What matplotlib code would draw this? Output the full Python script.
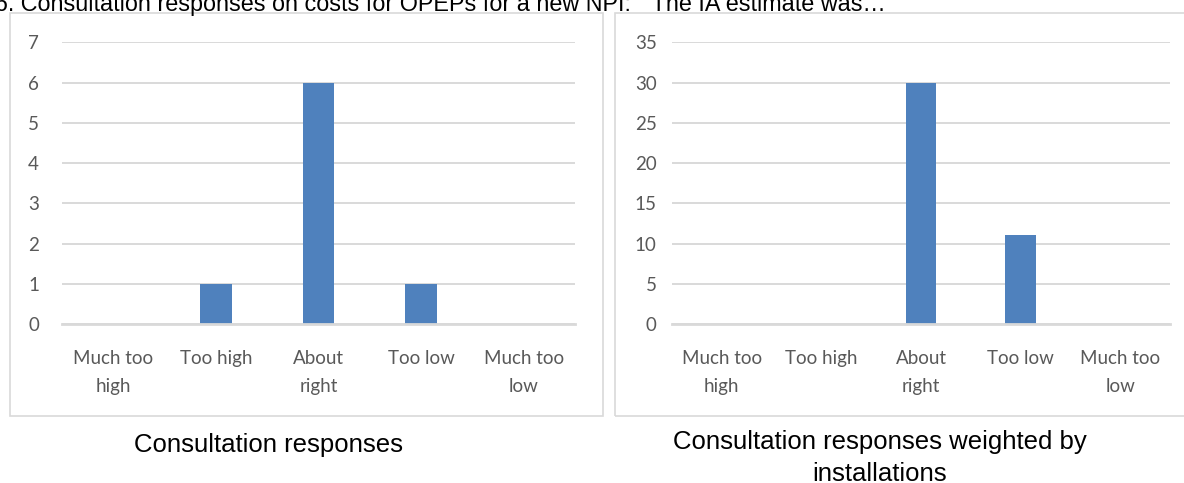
import matplotlib
matplotlib.use("Agg")
import matplotlib.pyplot as plt
from matplotlib.patches import Rectangle

# Survey data
categories = ["Much too\nhigh", "Too high", "About\nright", "Too low", "Much too\nlow"]
responses = [0, 1, 6, 1, 0]
weighted_responses = [0, 0, 30, 11, 0]

left_ticks = list(range(0, 8))
right_ticks = list(range(0, 36, 5))

title = "6. Consultation responses on costs for OPEPs for a new NPI:  \u201cThe IA estimate was\u2026"
left_caption = "Consultation responses"
right_caption = "Consultation responses weighted by\ninstallations"

W, H = 1184, 483
BAR = "#4F81BD"
GRID = "#D9D9D9"
TICK = "#595959"
CAPTION_FONT = "Liberation Sans"

fig = plt.figure(figsize=(W / 100, H / 100), dpi=100)
fig.patch.set_facecolor("white")


def fx(px):
    return px / W


def fy(py):
    return 1 - py / H


# Chart frames
for x0, x1 in [(10, 603), (615, 1200)]:
    fig.patches.append(Rectangle((fx(x0), fy(416)), fx(x1 - x0), (416 - 13) / H,
                                 transform=fig.transFigure, fill=False,
                                 edgecolor=GRID, linewidth=1.2))


def panel(x0, x1, values, ticks, pad):
    ax = fig.add_axes([fx(x0), fy(324), fx(x1 - x0), (324 - 42.3) / H])
    xs = list(range(len(categories)))
    ax.bar(xs, values, width=0.31, color=BAR, zorder=3)
    ax.set_xlim(-0.5, len(categories) - 0.5)
    ax.set_ylim(ticks[0], ticks[-1])
    ax.set_yticks(ticks)
    ax.set_xticks(xs)
    ax.set_xticklabels(categories, linespacing=1.75)
    for s in ["top", "left", "right"]:
        ax.spines[s].set_visible(False)
    ax.spines["bottom"].set_color(GRID)
    ax.spines["bottom"].set_linewidth(2.0)
    ax.spines["bottom"].set_zorder(4)
    ax.yaxis.grid(True, color=GRID, linewidth=1.4, zorder=0)
    ax.set_axisbelow(True)
    ax.tick_params(axis="both", length=0, labelsize=13.5, labelcolor=TICK)
    ax.tick_params(axis="y", pad=pad)
    ax.tick_params(axis="x", pad=19)
    for lab in ax.get_xticklabels() + ax.get_yticklabels():
        lab.set_family("Lato")
    for lab in ax.get_xticklabels():
        lab.set_verticalalignment("top")
    ax.set_facecolor("none")
    return ax


panel(62, 575, responses, left_ticks, 16.5)
panel(672, 1170, weighted_responses, right_ticks, 11)

fig.text(fx(-5), fy(10.5), title, ha="left", va="baseline",
         family=CAPTION_FONT, fontsize=16.8, color="black")
fig.text(fx(269), fy(433), left_caption, ha="center", va="top",
         family=CAPTION_FONT, fontsize=18.5, color="black")
fig.text(fx(880), fy(430), right_caption, ha="center", va="top",
         family=CAPTION_FONT, fontsize=18.5, color="black", linespacing=1.4)

fig.savefig("out.png", dpi=100)
